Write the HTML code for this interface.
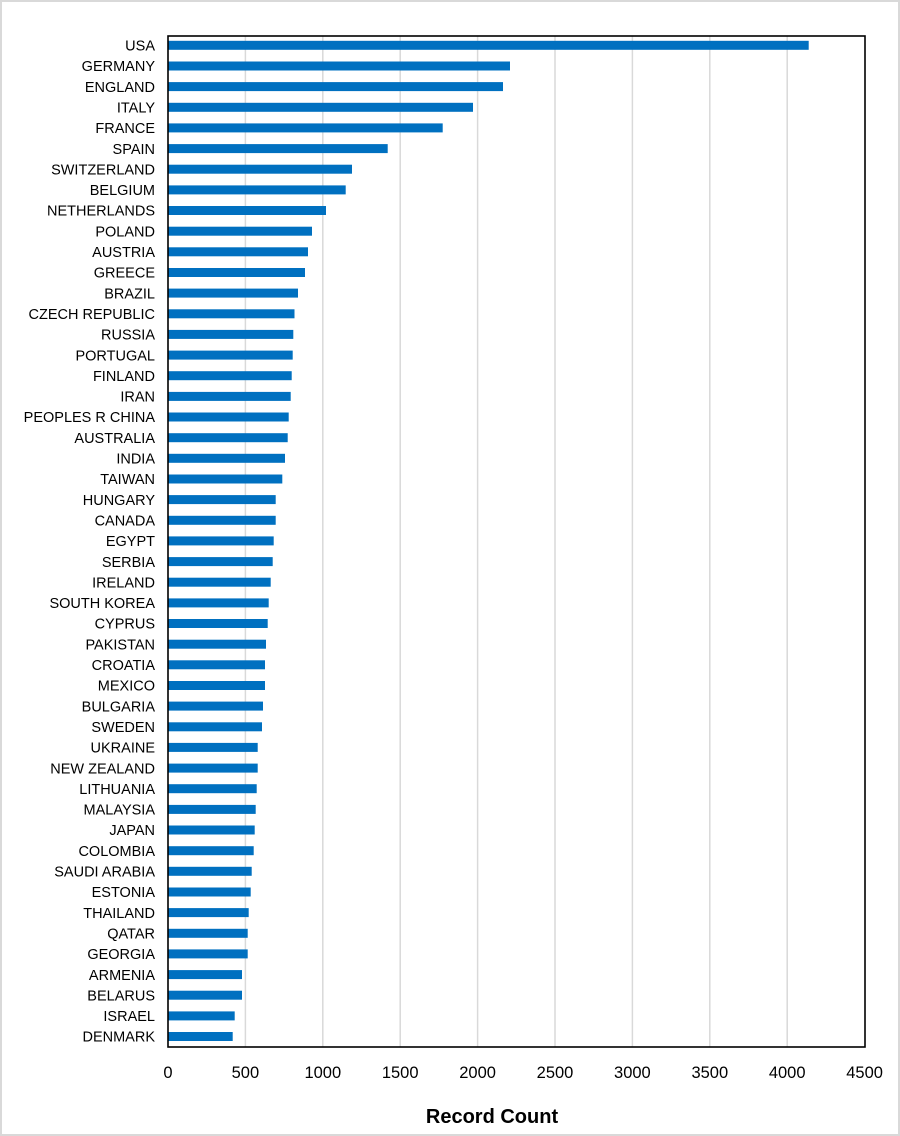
<!DOCTYPE html>
<html><head><meta charset="utf-8"><style>
html,body{margin:0;padding:0;background:#fff}
svg{display:block}
text{font-family:"Liberation Sans",Arial,sans-serif;fill:#000}
</style></head><body>
<svg width="900" height="1136" viewBox="0 0 900 1136" xmlns="http://www.w3.org/2000/svg">
<rect x="1" y="1" width="898" height="1134" fill="#fff" stroke="#d9d9d9" stroke-width="2"/>
<g stroke="#d9d9d9" stroke-width="1.5">
<line x1="245.4" y1="36" x2="245.4" y2="1047"/>
<line x1="322.8" y1="36" x2="322.8" y2="1047"/>
<line x1="400.2" y1="36" x2="400.2" y2="1047"/>
<line x1="477.6" y1="36" x2="477.6" y2="1047"/>
<line x1="555" y1="36" x2="555" y2="1047"/>
<line x1="632.4" y1="36" x2="632.4" y2="1047"/>
<line x1="709.8" y1="36" x2="709.8" y2="1047"/>
<line x1="787.2" y1="36" x2="787.2" y2="1047"/>
</g>
<g fill="#0070c0">
<rect x="168" y="40.8" width="640.7" height="9"/>
<rect x="168" y="61.5" width="342" height="9"/>
<rect x="168" y="82.1" width="335" height="9"/>
<rect x="168" y="102.8" width="305" height="9"/>
<rect x="168" y="123.4" width="274.7" height="9"/>
<rect x="168" y="144.1" width="219.7" height="9"/>
<rect x="168" y="164.7" width="184" height="9"/>
<rect x="168" y="185.4" width="177.7" height="9"/>
<rect x="168" y="206" width="158" height="9"/>
<rect x="168" y="226.7" width="144" height="9"/>
<rect x="168" y="247.3" width="140" height="9"/>
<rect x="168" y="268" width="137" height="9"/>
<rect x="168" y="288.6" width="130" height="9"/>
<rect x="168" y="309.3" width="126.5" height="9"/>
<rect x="168" y="329.9" width="125.3" height="9"/>
<rect x="168" y="350.6" width="124.7" height="9"/>
<rect x="168" y="371.2" width="123.7" height="9"/>
<rect x="168" y="391.9" width="122.7" height="9"/>
<rect x="168" y="412.5" width="120.7" height="9"/>
<rect x="168" y="433.2" width="119.7" height="9"/>
<rect x="168" y="453.8" width="117" height="9"/>
<rect x="168" y="474.5" width="114.3" height="9"/>
<rect x="168" y="495.1" width="107.7" height="9"/>
<rect x="168" y="515.8" width="107.7" height="9"/>
<rect x="168" y="536.4" width="105.7" height="9"/>
<rect x="168" y="557.1" width="104.7" height="9"/>
<rect x="168" y="577.7" width="102.7" height="9"/>
<rect x="168" y="598.4" width="100.7" height="9"/>
<rect x="168" y="619" width="99.7" height="9"/>
<rect x="168" y="639.7" width="98" height="9"/>
<rect x="168" y="660.3" width="97" height="9"/>
<rect x="168" y="681" width="97" height="9"/>
<rect x="168" y="701.6" width="95" height="9"/>
<rect x="168" y="722.3" width="94" height="9"/>
<rect x="168" y="742.9" width="89.7" height="9"/>
<rect x="168" y="763.6" width="89.7" height="9"/>
<rect x="168" y="784.2" width="88.7" height="9"/>
<rect x="168" y="804.9" width="87.7" height="9"/>
<rect x="168" y="825.5" width="86.7" height="9"/>
<rect x="168" y="846.2" width="85.7" height="9"/>
<rect x="168" y="866.8" width="83.7" height="9"/>
<rect x="168" y="887.5" width="82.7" height="9"/>
<rect x="168" y="908.1" width="80.7" height="9"/>
<rect x="168" y="928.8" width="79.7" height="9"/>
<rect x="168" y="949.4" width="79.7" height="9"/>
<rect x="168" y="970.1" width="74" height="9"/>
<rect x="168" y="990.7" width="74" height="9"/>
<rect x="168" y="1011.4" width="66.7" height="9"/>
<rect x="168" y="1032" width="64.7" height="9"/>
</g>
<rect x="168" y="36" width="697" height="1011" fill="none" stroke="#000" stroke-width="1.6"/>
<g font-size="14.5" text-anchor="end">
<text x="155" y="50.5">USA</text>
<text x="155" y="71.2">GERMANY</text>
<text x="155" y="91.8">ENGLAND</text>
<text x="155" y="112.5">ITALY</text>
<text x="155" y="133.1">FRANCE</text>
<text x="155" y="153.8">SPAIN</text>
<text x="155" y="174.4">SWITZERLAND</text>
<text x="155" y="195.1">BELGIUM</text>
<text x="155" y="215.7">NETHERLANDS</text>
<text x="155" y="236.4">POLAND</text>
<text x="155" y="257">AUSTRIA</text>
<text x="155" y="277.7">GREECE</text>
<text x="155" y="298.3">BRAZIL</text>
<text x="155" y="319">CZECH REPUBLIC</text>
<text x="155" y="339.6">RUSSIA</text>
<text x="155" y="360.3">PORTUGAL</text>
<text x="155" y="380.9">FINLAND</text>
<text x="155" y="401.6">IRAN</text>
<text x="155" y="422.2">PEOPLES R CHINA</text>
<text x="155" y="442.9">AUSTRALIA</text>
<text x="155" y="463.5">INDIA</text>
<text x="155" y="484.2">TAIWAN</text>
<text x="155" y="504.8">HUNGARY</text>
<text x="155" y="525.5">CANADA</text>
<text x="155" y="546.1">EGYPT</text>
<text x="155" y="566.8">SERBIA</text>
<text x="155" y="587.4">IRELAND</text>
<text x="155" y="608.1">SOUTH KOREA</text>
<text x="155" y="628.7">CYPRUS</text>
<text x="155" y="649.4">PAKISTAN</text>
<text x="155" y="670">CROATIA</text>
<text x="155" y="690.7">MEXICO</text>
<text x="155" y="711.3">BULGARIA</text>
<text x="155" y="732">SWEDEN</text>
<text x="155" y="752.6">UKRAINE</text>
<text x="155" y="773.3">NEW ZEALAND</text>
<text x="155" y="793.9">LITHUANIA</text>
<text x="155" y="814.6">MALAYSIA</text>
<text x="155" y="835.2">JAPAN</text>
<text x="155" y="855.9">COLOMBIA</text>
<text x="155" y="876.5">SAUDI ARABIA</text>
<text x="155" y="897.2">ESTONIA</text>
<text x="155" y="917.8">THAILAND</text>
<text x="155" y="938.5">QATAR</text>
<text x="155" y="959.1">GEORGIA</text>
<text x="155" y="979.8">ARMENIA</text>
<text x="155" y="1000.4">BELARUS</text>
<text x="155" y="1021.1">ISRAEL</text>
<text x="155" y="1041.7">DENMARK</text>
</g>
<g font-size="16.5" text-anchor="middle">
<text x="168" y="1078">0</text>
<text x="245.4" y="1078">500</text>
<text x="322.8" y="1078">1000</text>
<text x="400.2" y="1078">1500</text>
<text x="477.6" y="1078">2000</text>
<text x="555" y="1078">2500</text>
<text x="632.4" y="1078">3000</text>
<text x="709.8" y="1078">3500</text>
<text x="787.2" y="1078">4000</text>
<text x="864.6" y="1078">4500</text>
</g>
<text x="492" y="1123" font-size="20" font-weight="bold" text-anchor="middle">Record Count</text>
</svg>
</body></html>
